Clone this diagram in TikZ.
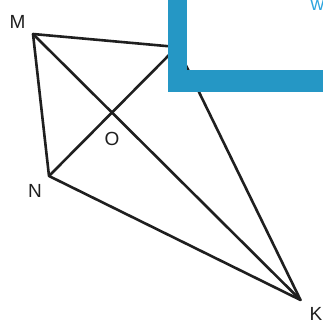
\documentclass[tikz,border=0pt]{standalone}
\usepackage{fontspec}
\setmainfont{Liberation Sans}
\definecolor{barblue}{RGB}{37,151,197}
\definecolor{wblue}{RGB}{45,165,222}
\begin{document}
\begin{tikzpicture}[x=1pt,y=-1pt,
  edge/.style={line width=2.6pt,line cap=round,line join=round,color=black!88},
  lbl/.style={inner sep=0pt,font=\fontsize{19}{22}\selectfont,text=black!88}]
\useasboundingbox (0,0) rectangle (323,325);
\coordinate (M) at (33,34);
\coordinate (N) at (49,176);
\coordinate (K) at (300.5,300);
\coordinate (P) at (177,47);
\coordinate (O) at (112.5,114);
\draw[edge] (M) -- (P) -- (K) -- (N) -- cycle;
\draw[edge] (M) -- (K);
\draw[edge] (N) -- (P);
\node[lbl] (lM) at (17.5,22) {M};
\node[lbl] (lN) at (35,190.5) {N};
\node[lbl] (lO) at (112,139) {O};
\node[lbl] (lK) at (316,314) {K};
\fill[barblue] (168,0) rectangle (187,92);
\fill[barblue] (168,70) rectangle (323,92);
\node[inner sep=0pt,anchor=base west,font=\fontsize{19}{22}\selectfont,text=wblue] (w) at (310.5,10) {w};
\end{tikzpicture}
\end{document}
